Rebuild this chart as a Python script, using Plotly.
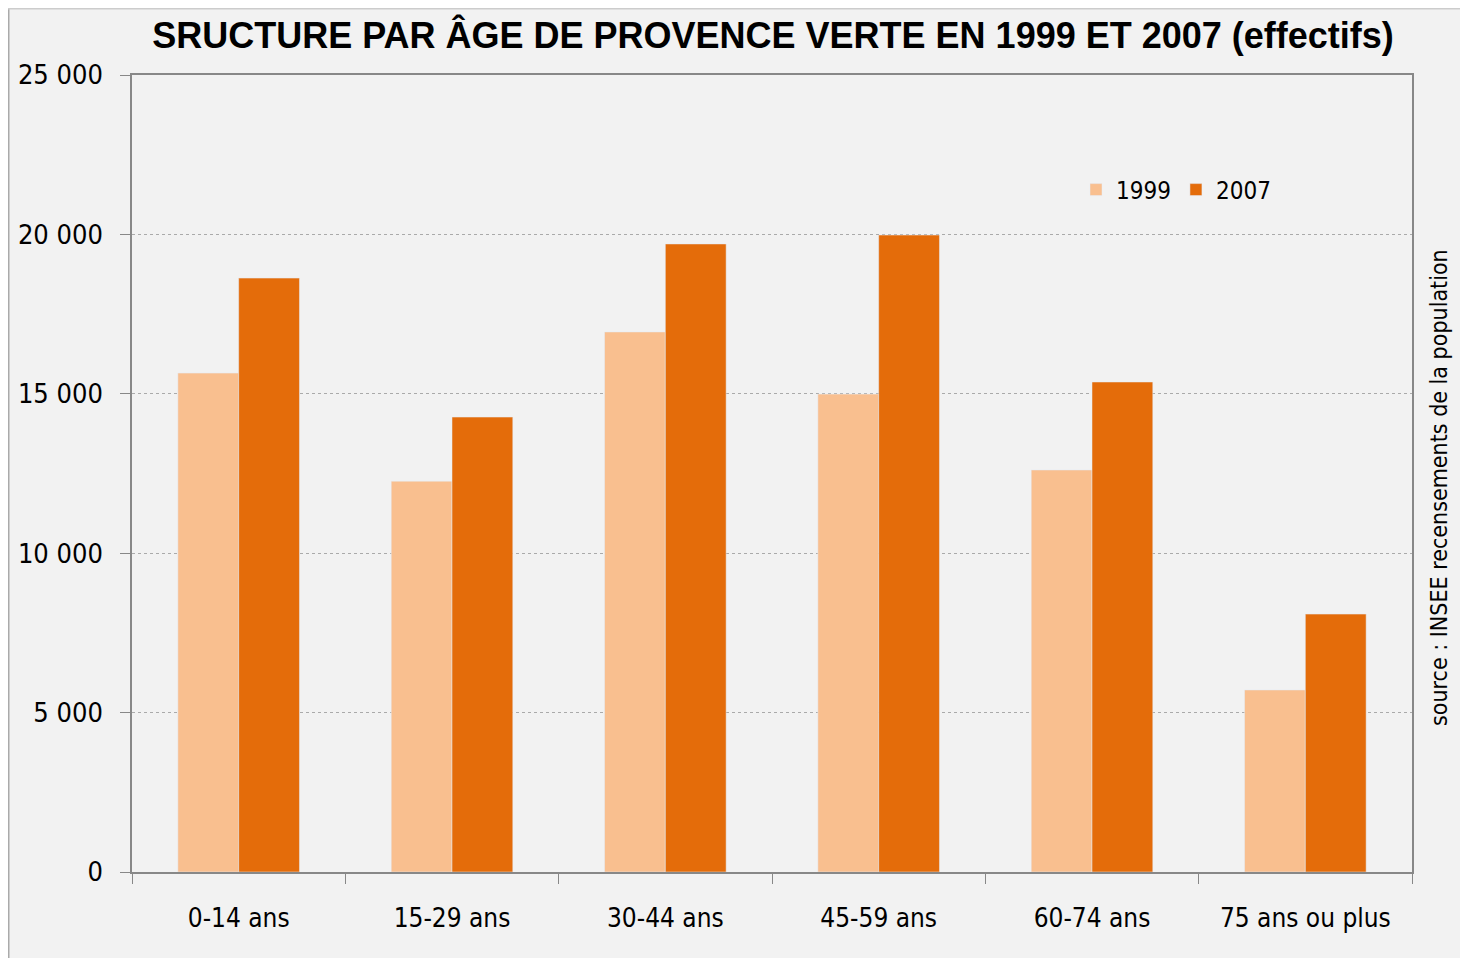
import plotly.graph_objects as go

# Structure par âge, Provence Verte (INSEE)
categories = ["0-14 ans", "15-29 ans", "30-44 ans", "45-59 ans", "60-74 ans", "75 ans ou plus"]
pop_1999 = [15650, 12260, 16940, 14990, 12610, 5710]
pop_2007 = [18630, 14270, 19700, 19980, 15370, 8090]
y_ticks = [0, 5000, 10000, 15000, 20000, 25000]

NARROW = "DejaVu Sans Condensed, Liberation Sans Narrow, Liberation Sans, Arial"

W, H = 1460, 950
L, R, T, B = 124, 56, 67, 86
pw, ph = W - L - R, H - T - B

fig = go.Figure()
fig.add_trace(go.Bar(x=categories, y=pop_1999, name="1999", marker_color="#f9bf8f"))
fig.add_trace(go.Bar(x=categories, y=pop_2007, name="2007", marker_color="#e46c0a"))

fig.update_layout(
    width=W, height=H,
    paper_bgcolor="#f2f2f2", plot_bgcolor="#f2f2f2",
    margin=dict(l=L, r=R, t=T, b=B),
    separators=", ",
    barmode="group", bargap=0.43, bargroupgap=0,
    title=dict(text="<b>SRUCTURE PAR ÂGE DE PROVENCE VERTE EN 1999 ET 2007 (effectifs)</b>",
               x=(773 - 8) / W, xanchor="center", y=1 - 27 / H, yanchor="middle",
               font=dict(family="Liberation Sans, Arial", size=36, color="black")),
    legend=dict(orientation="h", x=(1076 - 8 - L) / pw, y=1 - (190 - 75) / ph,
                xanchor="left", yanchor="middle",
                bgcolor="rgba(0,0,0,0)", font=dict(family=NARROW, size=24, color="black"),
                traceorder="normal"),
    font=dict(family=NARROW, color="black"),
)
fig.update_xaxes(
    showline=True, linecolor="#888888", linewidth=1.5, mirror=True,
    ticks="outside", tickson="boundaries", ticklen=10, tickcolor="#888888",
    ticklabelstandoff=22, automargin=False,
    tickfont=dict(family=NARROW, size=26, color="black"), showgrid=False,
)
fig.update_yaxes(
    range=[0, 25000], tickvals=y_ticks, tickformat=",d",
    showline=True, linecolor="#888888", linewidth=1.5, mirror=True,
    ticks="outside", ticklen=10, tickcolor="#888888",
    ticklabelstandoff=12, automargin=False,
    tickfont=dict(family=NARROW, size=27, color="black"),
    showgrid=True, gridcolor="#aaaaaa", griddash="dot", gridwidth=1,
    zeroline=False,
)
fig.add_annotation(text="source : INSEE recensements de la population",
                   xref="paper", yref="paper", x=1.0, y=1 - (488 - 75) / ph, xshift=42,
                   textangle=-90, showarrow=False,
                   font=dict(family=NARROW, size=23, color="black"))
# thin frame on the left and top edges of the picture
fig.add_shape(type="line", xref="paper", yref="paper", x0=-L / pw, x1=-L / pw, y0=-B / ph, y1=1 + T / ph,
              line=dict(color="#aaaaaa", width=3))
fig.add_shape(type="line", xref="paper", yref="paper", x0=-L / pw, x1=1 + R / pw, y0=1 + T / ph, y1=1 + T / ph,
              line=dict(color="#cccccc", width=3))

fig.write_html("out.html")
